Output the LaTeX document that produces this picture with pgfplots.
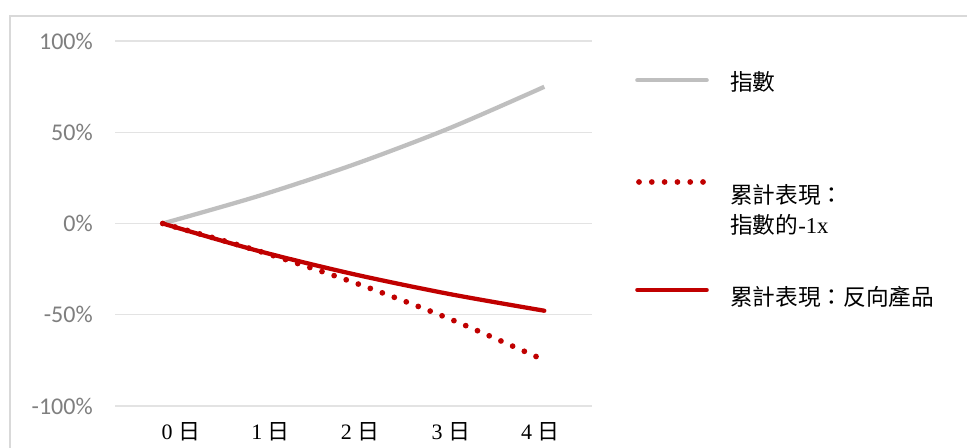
\documentclass[border=0pt]{standalone}
\usepackage{fontspec}
\setmainfont{Liberation Serif}
\newfontfamily\cjk{Noto Sans CJK TC}
\newfontfamily\carlito{Carlito}
\usepackage{pgfplots}
\pgfplotsset{compat=1.18}
\definecolor{idxgray}{HTML}{BFBFBF}
\definecolor{dred}{HTML}{C00000}
\definecolor{gridgray}{HTML}{E3E3E3}
\definecolor{framegray}{HTML}{D9D9D9}
\definecolor{tickgray}{HTML}{7F7F7F}
\begin{document}
\begin{tikzpicture}[x=1pt,y=1pt]
\path[use as bounding box, fill=white] (0,0) rectangle (725.25,336);
\draw[framegray, line width=1.2pt] (7.5,0) -- (7.5,324.2) -- (725.25,324.2);
\begin{axis}[
  at={(86.25pt,31.5pt)}, anchor=south west,
  scale only axis, width=357.75pt, height=273.75pt,
  xmin=-0.5, xmax=4.5, ymin=-100, ymax=100,
  axis line style={draw=none}, major tick length=0pt,
  ytick={-100,-50,0,50,100},
  yticklabels={-100\%,-50\%,0\%,50\%,100\%},
  yticklabel style={font=\carlito\fontsize{18}{21}\selectfont, text=tickgray, anchor=east, inner sep=0pt, xshift=-16.5pt},
  xtick={0.19,1.13,2.07,3.02,3.96},
  xticklabels={{0 {\cjk 日}},{1 {\cjk 日}},{2 {\cjk 日}},{3 {\cjk 日}},{4 {\cjk 日}}},
  xticklabel style={font=\fontsize{16.5}{19}\selectfont, anchor=center, inner sep=0pt, yshift=-19.5pt},
  ymajorgrids, grid style={gridgray, line width=1.1pt},
  clip=false,
]
\addplot[idxgray, line width=3.2pt, smooth] coordinates {(0,0) (1,15) (2,32.25) (3,52.09) (4,74.9)};
\addplot[dred, line width=4.3pt, line cap=round, dash pattern=on 0pt off 9.6pt, smooth] coordinates {(0,0) (1,-15) (2,-32.25) (3,-52.09) (4,-74.9)};
\addplot[dred, line width=3.2pt, line cap=round, smooth] coordinates {(0,0) (1,-15) (2,-27.75) (3,-38.59) (4,-47.8)};
\end{axis}
\draw[idxgray, line width=3.2pt, line cap=round] (478,275.8) -- (530,275.8);
\draw[dred, line width=4.3pt, line cap=round, dash pattern=on 0pt off 9.6pt] (479.25,199.5) -- (529.5,199.5);
\draw[dred, line width=3.2pt, line cap=round] (478,118.5) -- (530,118.5);
\node[anchor=west, inner sep=0pt, font=\cjk\fontsize{17}{20}\selectfont] at (547.5,274.9) {指數};
\node[anchor=west, inner sep=0pt, font=\cjk\fontsize{17}{20}\selectfont] at (547.5,189.75) {累計表現：};
\node[anchor=west, inner sep=0pt, font=\cjk\fontsize{17}{20}\selectfont] at (547.5,167.25) {指數的{\rmfamily -1x}};
\node[anchor=west, inner sep=0pt, font=\cjk\fontsize{17}{20}\selectfont] at (547.5,113.25) {累計表現：反向產品};
\end{tikzpicture}
\end{document}
